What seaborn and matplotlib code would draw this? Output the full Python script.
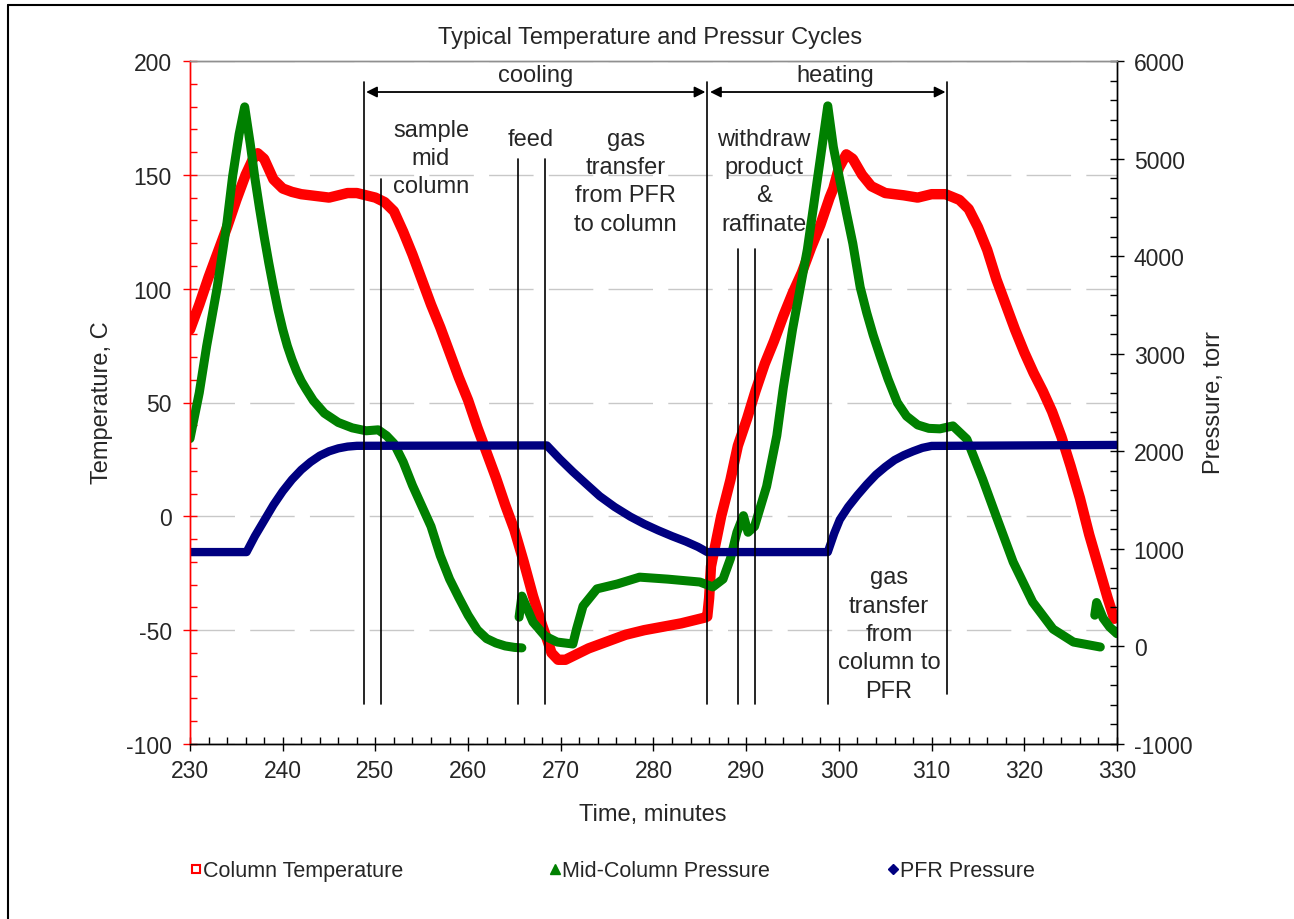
import matplotlib
matplotlib.use("Agg")
import matplotlib.pyplot as plt
from matplotlib.lines import Line2D
from matplotlib.ticker import MultipleLocator
import pandas as pd
import seaborn as sns

# Column temperature, C (left axis)
col_time = [230, 231, 232, 233, 234, 235, 236, 236.8, 237.3, 238, 239, 240, 241, 242, 243,
            244, 245, 246, 247, 248, 249, 250, 251, 252, 253, 254, 255, 256, 257, 258, 259,
            260, 261, 262, 263, 264, 265, 266, 267, 268, 268.6, 269, 269.7, 270.5, 271.5,
            273, 275, 277, 279, 281, 283, 285.5, 285.8, 286.0, 286.2, 286.8, 287.3, 288.3,
            289.1, 290.1, 291, 292, 293, 294, 295, 296, 297, 298, 299, 299.4, 300, 300.8,
            301.5, 302.5, 303.5, 305, 307, 308.5, 310, 311.5, 313, 314, 315, 316, 317, 318,
            319, 320, 321, 322, 323, 324, 325, 326, 327, 328, 329, 329.7]
col_temp = [82, 93, 105, 116, 127, 139, 150, 157, 159.5, 157, 148, 144, 142.5, 141.5, 141,
            140.5, 140, 141, 142, 142, 141, 140, 138, 134, 125, 115, 104, 93, 83, 72, 61,
            51, 39, 28, 17, 5, -6, -20, -35, -48, -55, -60, -63, -63, -61,
            -58, -55, -52, -50, -48.5, -47, -44.5, -44, -36, -22, -10, 0, 16,
            31, 43, 55, 67, 77, 88, 98, 107, 118, 128, 140, 144, 153, 159,
            157, 150, 145, 142, 141, 140, 141.5, 141.5, 139, 135, 127, 117, 104, 93,
            82, 72, 63, 55, 46, 35, 22, 8, -8, -22, -36, -45]

# Mid-column pressure, torr (right axis), three logged segments
mid_time_a = [230, 231, 231.8, 232.9, 234, 234.6, 235.3, 235.9, 236.5, 237, 237.5, 238,
              238.5, 239, 239.5, 240, 240.5, 241, 241.5, 242, 242.5, 243.3, 244.5, 246,
              247.5, 249, 250.3, 251.2, 252, 253, 254, 255, 256, 257, 258, 259, 260, 261,
              262, 263, 264, 265, 265.8]
mid_pres_a = [2130, 2600, 3080, 3660, 4350, 4820, 5250, 5530, 5150, 4800, 4490, 4200,
              3930, 3680, 3450, 3250, 3080, 2940, 2820, 2720, 2640, 2520, 2390, 2295,
              2240, 2210, 2220, 2160, 2080, 1890, 1650, 1440, 1230, 930, 690, 500, 320, 170,
              80, 35, 5, -10, -15]
mid_time_b = [265.5, 265.8, 267, 268.3, 269.6, 271.3, 271.7, 272.4, 273.9, 276.1, 278.5,
              281.5, 285, 286.4, 287.5, 288.3, 289.0, 289.7, 290.2, 290.9, 292.2, 293.3,
              294, 295, 296.6, 298, 298.8, 299.4, 300.1, 300.8, 301.5, 302.3, 303, 303.7,
              304.5, 305.3, 306.3, 307.3, 308.5, 309.7, 310.9, 312.3, 313.8, 315.5, 317.0,
              318.8, 320.9, 323.1, 325.3, 328.2]
mid_pres_b = [300, 516, 250, 106, 45, 25, 178, 414, 590, 640, 710,
              690, 660, 610, 690, 900, 1170, 1340, 1170, 1230, 1640, 2160,
              2650, 3250, 4070, 5000, 5540, 5120, 4780, 4450, 4130, 3680, 3420, 3190,
              2960, 2740, 2500, 2360, 2270, 2235, 2230, 2260, 2125, 1716, 1326,
              865, 455, 178, 45, -6]
mid_time_c = [327.6, 327.8, 328.5, 329.2, 330]
mid_pres_c = [320, 450, 290, 200, 130]

# PFR pressure, torr (right axis)
pfr_time = [230, 236.1, 237, 238, 239, 240, 241, 242, 243, 244, 245, 246, 247, 248, 268.5,
            269, 269.9, 271.3, 272.8, 274.2, 275.8, 277.5, 279, 280.5, 282, 283.5, 284.8,
            285.8, 298.8, 299.5, 300.1, 301, 302, 303, 304, 305, 306, 307, 308, 309, 310,
            330]
pfr_pres = [967, 967, 1130, 1290, 1450, 1590, 1710, 1810, 1890, 1955, 2000, 2030, 2048,
            2056, 2060, 2010, 1920, 1790, 1660, 1540, 1430, 1330, 1255, 1190, 1130, 1075,
            1020, 967, 967, 1160, 1300, 1430, 1550, 1660, 1760, 1840, 1910, 1960, 2000,
            2035, 2055, 2065]

# event markers (minutes) and their label texts
event_times = [248.8, 250.6, 265.4, 268.3, 285.8, 289.1, 290.9, 298.8, 311.7]
event_tops = [0.969, 0.827, 0.8565, 0.8565, 0.969, 0.7247, 0.7247, 0.739, 0.969]
event_bottoms = [0.0586, 0.0586, 0.0586, 0.0586, 0.0586, 0.0586, 0.0586, 0.0586, 0.0732]
notes = ["sample\nmid\ncolumn", "feed", "gas\ntransfer\nfrom PFR\nto column",
         "withdraw\nproduct\n&\nraffinate", "gas\ntransfer\nfrom\ncolumn to\nPFR"]
note_x = [256, 266.8, 277, 291.9, 305.4]
note_y = [0.858, 0.886, 0.824, 0.824, 0.161]

RED, GREEN, NAVY = "#FF0000", "#008000", "#000080"

sns.set_style("white")
plt.rcParams["font.family"] = ["Liberation Sans", "DejaVu Sans"]
plt.rcParams["axes.unicode_minus"] = False

fig = plt.figure(figsize=(12.94, 9.2), dpi=100)
ax = fig.add_axes([190 / 1294, 1 - 745 / 920, 927 / 1294, 683 / 920])
ax2 = ax.twinx()

col = pd.DataFrame({"t": col_time, "v": col_temp})
sns.lineplot(data=col, x="t", y="v", ax=ax, color=RED, lw=7.5, legend=False)
for tt, pp in [(mid_time_a, mid_pres_a), (mid_time_b, mid_pres_b), (mid_time_c, mid_pres_c)]:
    seg = pd.DataFrame({"t": tt, "v": pp})
    sns.lineplot(data=seg, x="t", y="v", ax=ax2, color=GREEN, lw=6.5, legend=False)
pfr = pd.DataFrame({"t": pfr_time, "v": pfr_pres})
sns.lineplot(data=pfr, x="t", y="v", ax=ax2, color=NAVY, lw=6, legend=False)

ax.set_xlim(230, 330)
ax.set_ylim(-100, 200)
ax2.set_ylim(-1000, 6000)
ax.xaxis.set_major_locator(MultipleLocator(10))
ax.xaxis.set_minor_locator(MultipleLocator(2))
ax.yaxis.set_major_locator(MultipleLocator(50))
ax.yaxis.set_minor_locator(MultipleLocator(10))
ax2.yaxis.set_major_locator(MultipleLocator(1000))
ax2.yaxis.set_minor_locator(MultipleLocator(200))
ax.set_xlabel("")
ax.set_ylabel("")
ax2.set_ylabel("")

ax.grid(axis="y", color="#c8c8c8", lw=1, ls=(0, (32, 11)))
gls = ax.yaxis.get_gridlines()
gls[0].set_visible(False)
gls[-1].set_visible(False)

ax.tick_params(axis="y", which="major", direction="inout", length=10, width=1,
               color=RED, labelsize=16.5, pad=8, left=True)
ax.tick_params(axis="y", which="minor", direction="in", length=5, width=1, color=RED, left=True)
ax.tick_params(axis="x", which="major", direction="inout", length=10, width=1,
               color="black", labelsize=16.5, pad=6, bottom=True)
ax.tick_params(axis="x", which="minor", direction="in", length=5, width=1, color="black",
               bottom=True)
ax2.tick_params(axis="y", which="major", direction="inout", length=10, width=1,
                color="black", labelsize=16.5, pad=7, right=True)
ax2.tick_params(axis="y", which="minor", direction="in", length=5, width=1, color="black",
                right=True)

for a in (ax, ax2):
    a.spines["left"].set_color(RED)
    a.spines["right"].set_color("black")
    a.spines["bottom"].set_color("black")
    a.spines["top"].set_color("#909090")
    for s in a.spines.values():
        s.set_linewidth(1)

# event lines, phase arrows and notes
for xv, lo, hi in zip(event_times, event_bottoms, event_tops):
    ax2.axvline(xv, ymin=lo, ymax=hi, color="black", lw=1.2, zorder=5)

arrow_kw = dict(arrowstyle="<|-|>", color="black", lw=1.3, mutation_scale=16,
                shrinkA=0, shrinkB=0)
ax2.annotate("", xy=(249.0, 0.9546), xytext=(285.6, 0.9546),
             xycoords=("data", "axes fraction"), arrowprops=arrow_kw)
ax2.annotate("", xy=(286.1, 0.9546), xytext=(311.5, 0.9546),
             xycoords=("data", "axes fraction"), arrowprops=arrow_kw)
ax2.text(267.3, 0.9795, "cooling", transform=ax2.get_xaxis_transform(),
         ha="center", va="center", fontsize=17)
ax2.text(299.6, 0.9795, "heating", transform=ax2.get_xaxis_transform(),
         ha="center", va="center", fontsize=17)
for txt, xv, yv in zip(notes, note_x, note_y):
    ax2.text(xv, yv, txt, transform=ax2.get_xaxis_transform(), ha="center", va="center",
             fontsize=17, linespacing=1.37, multialignment="center")

fig.text(650 / 1294, 1 - 38 / 920, "Typical Temperature and Pressur Cycles",
         ha="center", va="center", fontsize=17)
fig.text(653 / 1294, 1 - 815 / 920, "Time, minutes", ha="center", va="center", fontsize=17)
fig.text(102 / 1294, 1 - 403 / 920, "Temperature, C", ha="center", va="center",
         rotation=90, fontsize=17)
fig.text(1214 / 1294, 1 - 403 / 920, "Pressure, torr", ha="center", va="center",
         rotation=90, fontsize=17)

# legend, one entry per slot like the original
handles = [
    (Line2D([], [], ls="none", marker="s", ms=6, mfc="white", mec=RED, mew=1.5),
     "Column Temperature", 191),
    (Line2D([], [], ls="none", marker="^", ms=7, color=GREEN), "Mid-Column Pressure", 550),
    (Line2D([], [], ls="none", marker="D", ms=5, color=NAVY), "PFR Pressure", 888),
]
for h, lab, px in handles:
    fig.legend([h], [lab], loc="center left", bbox_to_anchor=(px / 1294, 1 - 872 / 920),
               frameon=False, fontsize=15.5, handlelength=0.5, handletextpad=0.05,
               borderpad=0, borderaxespad=0)

# chart frame (left and top edges visible)
fig.add_artist(Line2D([8 / 1294, 8 / 1294], [0, 1 - 6 / 920], color="black", lw=1.5,
                      transform=fig.transFigure))
fig.add_artist(Line2D([8 / 1294, 1], [1 - 6 / 920, 1 - 6 / 920], color="black", lw=1.5,
                      transform=fig.transFigure))

fig.savefig("out.png", dpi=100)
